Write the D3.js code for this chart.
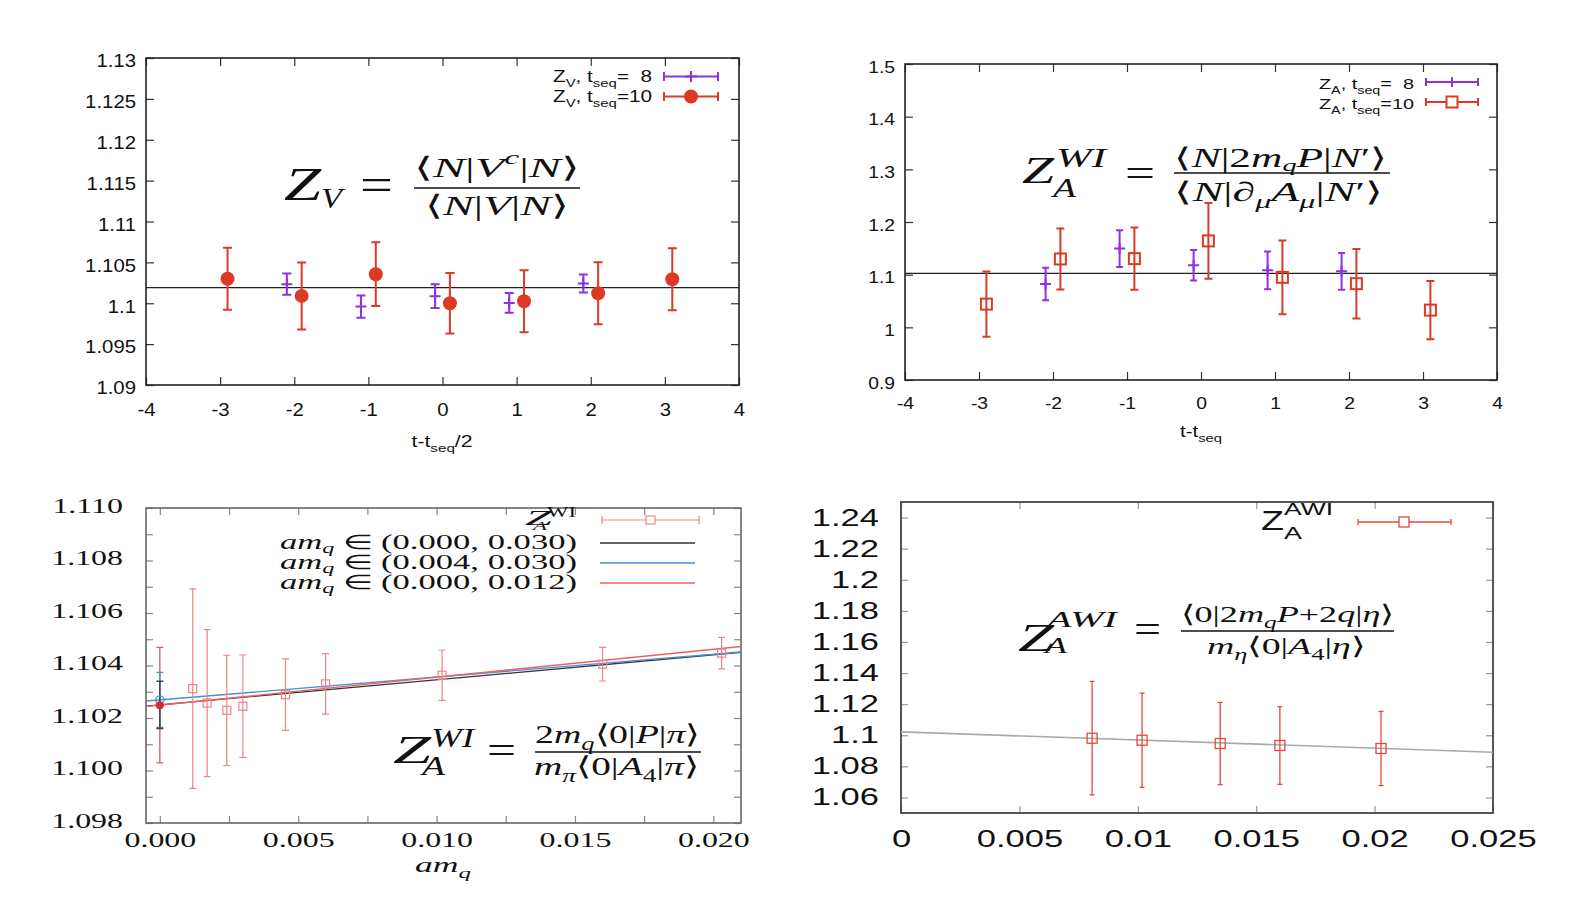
<!DOCTYPE html>
<html>
<head>
<meta charset="utf-8">
<script src="https://cdn.jsdelivr.net/npm/d3@7"></script>
<style>
body { margin: 0; background: #fff; }
svg { display: block; }
</style>
</head>
<body>
<svg id="chart" width="1578" height="912"></svg>
<script>
var SANS = '"Liberation Sans", Arial, sans-serif';
var SERIF = '"Liberation Serif", "Times New Roman", serif';

// ---- top left: Z_V against t - t_seq/2
var zvTicksX = [-4, -3, -2, -1, 0, 1, 2, 3, 4];
var zvTicksY = [1.09, 1.095, 1.1, 1.105, 1.11, 1.115, 1.12, 1.125, 1.13];
var zv8X = [-2.1, -1.1, -0.1, 0.9, 1.9];
var zv8Y = [1.10233, 1.09959, 1.10086, 1.10004, 1.10241];
var zv8Err = [0.0013, 0.00135, 0.00145, 0.0012, 0.0011];
var zv10X = [-2.9, -1.9, -0.9, 0.1, 1.1, 2.1, 3.1];
var zv10Y = [1.1030, 1.1009, 1.10355, 1.1000, 1.10024, 1.10122, 1.10294];
var zv10Err = [0.0038, 0.0041, 0.0039, 0.0037, 0.0038, 0.0038, 0.0038];
var zvFit = 1.1019;

// ---- top right: Z_A (WI) against t - t_seq
var zaTicksX = [-4, -3, -2, -1, 0, 1, 2, 3, 4];
var zaTicksY = [0.9, 1, 1.1, 1.2, 1.3, 1.4, 1.5];
var za8X = [-2.1, -1.1, -0.1, 0.9, 1.9];
var za8Y = [1.0822, 1.1495, 1.1178, 1.1082, 1.1063];
var za8Err = [0.031, 0.035, 0.029, 0.036, 0.035];
var za10X = [-2.9, -1.9, -0.9, 0.1, 1.1, 2.1, 3.1];
var za10Y = [1.0441, 1.1298, 1.1305, 1.1641, 1.0949, 1.0829, 1.0327];
var za10Err = [0.062, 0.058, 0.059, 0.072, 0.070, 0.066, 0.0555];
var zaFit = 1.1025;

// ---- bottom left: Z_A^WI against am_q
var wiTicksX = [0, 0.0025, 0.005, 0.0075, 0.01, 0.0125, 0.015, 0.0175, 0.02];
var wiTicksY = [1.098, 1.099, 1.1, 1.101, 1.102, 1.103, 1.104, 1.105, 1.106, 1.107, 1.108, 1.109, 1.11];
var wiX = [0.00119, 0.00171, 0.00242, 0.0030, 0.00454, 0.00599, 0.0102, 0.0160, 0.0203];
var wiY = [1.10312, 1.10257, 1.10229, 1.10245, 1.10289, 1.10330, 1.10363, 1.10405, 1.10447];
var wiErr = [0.0038, 0.0028, 0.0021, 0.00195, 0.00136, 0.00115, 0.00096, 0.00064, 0.0006];
var fitRanges = ["(0.000, 0.030)", "(0.004, 0.030)", "(0.000, 0.012)"];
var fitIntercept = [1.10250, 1.10269, 1.10249];
var fitSlope = [0.0955, 0.087, 0.1065];
var fitErr = [0.0009, 0.00105, 0.0022];
var fitColors = ["#333333", "#4a90d9", "#ee6060"];

// ---- bottom right: Z_A^AWI against am_q
var awiTicksX = [0, 0.005, 0.01, 0.015, 0.02, 0.025];
var awiTicksY = [1.06, 1.08, 1.1, 1.12, 1.14, 1.16, 1.18, 1.2, 1.22, 1.24];
var awiX = [0.00807, 0.01018, 0.01348, 0.0160, 0.02027];
var awiY = [1.0981, 1.0968, 1.0947, 1.0934, 1.0915];
var awiErr = [0.0365, 0.0303, 0.0265, 0.025, 0.0239];
var awiFitIntercept = 1.1022;
var awiFitSlope = -0.524;

var PURPLE = "#9030e0", RED = "#dc3a26", PINK = "#ef8585", RED4 = "#e24a3a";

var svg = d3.select("#chart");
svg.append("rect").attr("width", 1578).attr("height", 912).attr("fill", "#fff");

function widen(sel, k) {
  sel.each(function () {
    var w = this.getComputedTextLength();
    if (w > 0) d3.select(this).attr("textLength", w * k).attr("lengthAdjust", "spacingAndGlyphs");
  });
}

// text with sub/superscripts; parts = [text, italic, shift(em), scale]
function mtext(x, y, size, parts, font, width, anchor) {
  var t = svg.append("text").attr("x", x).attr("y", y).attr("font-size", size)
    .attr("font-family", font).attr("text-anchor", anchor || "start").attr("fill", "#111")
    .style("white-space", "pre");
  var cur = 0;
  parts.forEach(function (p) {
    var off = (p[2] || 0) * size;
    t.append("tspan").attr("dy", off - cur).attr("font-size", size * (p[3] || 1))
      .attr("font-style", p[1] ? "italic" : "normal").text(p[0]);
    cur = off;
  });
  if (width) t.attr("textLength", width).attr("lengthAdjust", "spacingAndGlyphs");
  return t;
}

function axes(o) {
  var x0 = o.x.range()[0], x1 = o.x.range()[1], yb = o.y.range()[0], yt = o.y.range()[1];
  var g = svg.append("g");
  var gl = g.append("g").attr("transform", "translate(" + x0 + ",0)")
    .call(d3.axisLeft(o.y).tickValues(o.yTicks).tickFormat(o.yFmt).tickSize(-o.tick).tickPadding(o.yPad));
  g.append("g").attr("transform", "translate(" + x1 + ",0)")
    .call(d3.axisRight(o.y).tickValues(o.yTicks).tickFormat("").tickSize(-o.tick));
  var gb = g.append("g").attr("transform", "translate(0," + yb + ")")
    .call(d3.axisBottom(o.x).tickValues(o.xTicks).tickFormat(o.xFmt).tickSize(-o.tick).tickPadding(o.xPad));
  g.append("g").attr("transform", "translate(0," + yt + ")")
    .call(d3.axisTop(o.x).tickValues(o.xTicks).tickFormat("").tickSize(-o.tick));
  g.selectAll(".domain").remove();
  g.selectAll(".tick line").attr("stroke", o.tickColor).attr("stroke-width", 1.2);
  g.selectAll("text").attr("font-family", o.font).attr("fill", "#111").attr("font-size", o.size);
  gl.selectAll("text").attr("transform", "translate(0," + o.yShift + ")");
  gb.selectAll("text").attr("transform", "translate(0," + o.xShift + ")");
  widen(g.selectAll("text"), o.stretch);
  g.append("rect").attr("x", x0).attr("y", yt).attr("width", x1 - x0).attr("height", yb - yt)
    .attr("fill", "none").attr("stroke", o.frame).attr("stroke-width", o.frameW);
  return g;
}

function errBars(x, y, xs, ys, es, color, cap, sw) {
  svg.append("g").selectAll("path").data(d3.range(xs.length)).enter().append("path")
    .attr("d", function (i) {
      var px = x(xs[i]), lo = y(ys[i] - es[i]), hi = y(ys[i] + es[i]);
      return "M" + px + "," + lo + "V" + hi +
        "M" + (px - cap / 2) + "," + lo + "h" + cap +
        "M" + (px - cap / 2) + "," + hi + "h" + cap;
    })
    .attr("stroke", color).attr("stroke-width", sw).attr("fill", "none");
}

function squares(x, y, xs, ys, color, s, sw) {
  svg.append("g").selectAll("rect").data(d3.range(xs.length)).enter().append("rect")
    .attr("x", function (i) { return x(xs[i]) - s / 2; })
    .attr("y", function (i) { return y(ys[i]) - s / 2; })
    .attr("width", s).attr("height", s)
    .attr("fill", "none").attr("stroke", color).attr("stroke-width", sw);
}

function plusMarks(x, y, xs, ys, color, s, sw) {
  svg.append("g").selectAll("path").data(d3.range(xs.length)).enter().append("path")
    .attr("d", function (i) {
      var px = x(xs[i]), py = y(ys[i]);
      return "M" + (px - s / 2) + "," + py + "h" + s + "M" + px + "," + (py - s / 2) + "v" + s;
    })
    .attr("stroke", color).attr("stroke-width", sw);
}

function legendBar(x0, x1, yy, color, cap, sw) {
  svg.append("path")
    .attr("d", "M" + x0 + "," + yy + "H" + x1 + "M" + x0 + "," + (yy - cap / 2) + "v" + cap +
      "M" + x1 + "," + (yy - cap / 2) + "v" + cap)
    .attr("stroke", color).attr("stroke-width", sw).attr("fill", "none");
}

function fracBar(x0, x1, yy, sw) {
  svg.append("line").attr("x1", x0).attr("x2", x1).attr("y1", yy).attr("y2", yy)
    .attr("stroke", "#111").attr("stroke-width", sw);
}

var numFmt = function (d) { return String(+d.toFixed(3)); };

// ================= panel 1 =================
var x1 = d3.scaleLinear().domain([-4, 4]).range([146, 739]);
var y1 = d3.scaleLinear().domain([1.09, 1.13]).range([385, 58]);

axes({ x: x1, y: y1, xTicks: zvTicksX, yTicks: zvTicksY, xFmt: numFmt, yFmt: numFmt,
  tick: 8, xPad: 11, yPad: 10, yShift: 3, xShift: 7, font: SANS, size: 18, stretch: 1.13,
  tickColor: "#333", frame: "#222", frameW: 1.6 });

svg.append("line").attr("x1", x1(-4)).attr("x2", x1(4)).attr("y1", y1(zvFit)).attr("y2", y1(zvFit))
  .attr("stroke", "#222").attr("stroke-width", 1.2);

errBars(x1, y1, zv8X, zv8Y, zv8Err, PURPLE, 9, 2);
plusMarks(x1, y1, zv8X, zv8Y, PURPLE, 11, 2);
errBars(x1, y1, zv10X, zv10Y, zv10Err, RED, 9, 2);
svg.append("g").selectAll("circle").data(d3.range(zv10X.length)).enter().append("circle")
  .attr("cx", function (i) { return x1(zv10X[i]); })
  .attr("cy", function (i) { return y1(zv10Y[i]); })
  .attr("r", 7).attr("fill", RED);

// legend
mtext(652, 82, 16, [["Z"], ["V", 0, 0.3, 0.72], [", t", 0, 0], ["seq", 0, 0.3, 0.72], ["=  8", 0, 0]], SANS, 99, "end");
mtext(652, 102, 16, [["Z"], ["V", 0, 0.3, 0.72], [", t", 0, 0], ["seq", 0, 0.3, 0.72], ["=10", 0, 0]], SANS, 99, "end");
legendBar(664, 718, 76.5, PURPLE, 9, 2);
svg.append("path").attr("d", "M685,76.5h12M691,71v11").attr("stroke", PURPLE).attr("stroke-width", 2);
legendBar(664, 718, 96.5, RED, 9, 2);
svg.append("circle").attr("cx", 691).attr("cy", 96.5).attr("r", 7).attr("fill", RED);

// formula
mtext(284, 200, 46, [["Z", 1]], SERIF, 37);
mtext(321, 208, 30, [["V", 1]], SERIF, 21);
mtext(360, 200, 46, [["="]], SERIF, 33);
fracBar(414, 580, 188, 1.6);
mtext(414, 177, 28, [["⟨"], ["N", 1], ["|"], ["V", 1], ["c", 1, -0.45, 0.7], ["|"], ["N", 1], ["⟩"]], SERIF, 166);
mtext(425, 215, 28, [["⟨"], ["N", 1], ["|"], ["V", 1], ["|"], ["N", 1], ["⟩"]], SERIF, 144);

mtext(442, 447, 16, [["t-t"], ["seq", 0, 0.3, 0.72], ["/2", 0, 0]], SANS, 61, "middle");

// ================= panel 2 =================
var x2 = d3.scaleLinear().domain([-4, 4]).range([905, 1497]);
var y2 = d3.scaleLinear().domain([0.9, 1.5]).range([380, 64]);

axes({ x: x2, y: y2, xTicks: zaTicksX, yTicks: zaTicksY, xFmt: numFmt, yFmt: numFmt,
  tick: 8, xPad: 10, yPad: 10, yShift: 3, xShift: 7, font: SANS, size: 16.5, stretch: 1.17,
  tickColor: "#333", frame: "#222", frameW: 1.6 });

svg.append("line").attr("x1", x2(-4)).attr("x2", x2(4)).attr("y1", y2(zaFit)).attr("y2", y2(zaFit))
  .attr("stroke", "#222").attr("stroke-width", 1.2);

errBars(x2, y2, za8X, za8Y, za8Err, PURPLE, 7, 2);
plusMarks(x2, y2, za8X, za8Y, PURPLE, 11, 2);
errBars(x2, y2, za10X, za10Y, za10Err, RED, 8, 2);
squares(x2, y2, za10X, za10Y, RED, 11, 2);

mtext(1414, 89, 15.5, [["Z"], ["A", 0, 0.3, 0.72], [", t", 0, 0], ["seq", 0, 0.3, 0.72], ["=  8", 0, 0]], SANS, 95, "end");
mtext(1414, 109, 15.5, [["Z"], ["A", 0, 0.3, 0.72], [", t", 0, 0], ["seq", 0, 0.3, 0.72], ["=10", 0, 0]], SANS, 95, "end");
legendBar(1426, 1478, 82, PURPLE, 8, 2);
svg.append("path").attr("d", "M1447,82h10M1452,77v10").attr("stroke", PURPLE).attr("stroke-width", 2);
legendBar(1426, 1478, 102, RED, 8, 2);
svg.append("rect").attr("x", 1446.5).attr("y", 96.5).attr("width", 11).attr("height", 11)
  .attr("fill", "#fff").attr("stroke", RED).attr("stroke-width", 2);

mtext(1022, 183, 38, [["Z", 1]], SERIF, 32);
mtext(1056, 167, 27, [["WI", 1]], SERIF, 50);
mtext(1053, 197, 27, [["A", 1]], SERIF, 23);
mtext(1125, 186, 38, [["="]], SERIF, 30);
fracBar(1174, 1390, 173, 1.6);
mtext(1174, 167, 27, [["⟨"], ["N", 1], ["|2"], ["m", 1], ["q", 1, 0.16, 0.65], ["P", 1], ["|"], ["N", 1], ["′"], ["⟩"]], SERIF, 214);
mtext(1174, 201, 27, [["⟨"], ["N", 1], ["|∂"], ["μ", 1, 0.25, 0.7], ["A", 1], ["μ", 1, 0.25, 0.7], ["|"], ["N", 1], ["′"], ["⟩"]], SERIF, 210);

mtext(1201, 437, 16, [["t-t"], ["seq", 0, 0.3, 0.72]], SANS, 42, "middle");

// ================= panel 3 =================
var x3 = d3.scaleLinear().domain([-0.0005, 0.021]).range([146, 741]);
var y3 = d3.scaleLinear().domain([1.098, 1.110]).range([823, 508]);

axes({ x: x3, y: y3, xTicks: wiTicksX, yTicks: wiTicksY,
  xFmt: function (d) { return Math.round(d * 10000) % 50 === 0 ? d.toFixed(3) : ""; },
  yFmt: function (d) { return Math.round(d * 1000) % 2 === 0 ? d.toFixed(3) : ""; },
  tick: 7, xPad: 12, yPad: 23, yShift: -3, xShift: -4, font: SERIF, size: 22, stretch: 1.45,
  tickColor: "#888", frame: "#666", frameW: 1.6 });

fitIntercept.forEach(function (b, k) {
  var d0 = x3.domain()[0], d1 = x3.domain()[1];
  svg.append("line").attr("x1", x3(d0)).attr("x2", x3(d1))
    .attr("y1", y3(b + fitSlope[k] * d0)).attr("y2", y3(b + fitSlope[k] * d1))
    .attr("stroke", fitColors[k]).attr("stroke-width", 1.4);
});

errBars(x3, y3, wiX, wiY, wiErr, PINK, 7, 1.2);
squares(x3, y3, wiX, wiY, PINK, 8, 1.2);

// extrapolated values at am_q = 0
errBars(x3, y3, [0], [fitIntercept[2]], [fitErr[2]], "#e06060", 7, 1.4);
errBars(x3, y3, [0], [fitIntercept[1]], [fitErr[1]], "#4a90d9", 7, 1.4);
errBars(x3, y3, [0], [fitIntercept[0]], [fitErr[0]], "#444", 7, 1.4);
svg.append("circle").attr("cx", x3(0)).attr("cy", y3(fitIntercept[1])).attr("r", 4)
  .attr("fill", "none").attr("stroke", "#4a90d9").attr("stroke-width", 1.4);
svg.append("circle").attr("cx", x3(0)).attr("cy", y3(fitIntercept[2])).attr("r", 4).attr("fill", "#c8302a");

// legend
mtext(525, 525, 21, [["Z", 1]], SERIF, 27);
mtext(547, 517, 14, [["WI"]], SERIF, 29);
mtext(533, 530, 12, [["A", 1]], SERIF, 14);
legendBar(602, 699, 520, PINK, 8, 1.2);
svg.append("rect").attr("x", 646).attr("y", 516).attr("width", 9).attr("height", 8)
  .attr("fill", "#fff").attr("stroke", PINK).attr("stroke-width", 1.2);
fitRanges.forEach(function (r, k) {
  var yy = 543 + k * 20;
  mtext(577, yy + 6, 20, [["am", 1], ["q", 1, 0.2, 0.7], [" ∈ " + r, 0, 0]], SERIF, 297, "end");
  svg.append("line").attr("x1", 600).attr("x2", 695).attr("y1", yy).attr("y2", yy)
    .attr("stroke", fitColors[k]).attr("stroke-width", 1.4);
});

mtext(393, 763, 40, [["Z", 1]], SERIF, 38);
mtext(431, 747, 27, [["WI", 1]], SERIF, 43);
mtext(422, 775, 27, [["A", 1]], SERIF, 23);
mtext(487, 764, 40, [["="]], SERIF, 29);
fracBar(535, 701, 752, 1.6);
mtext(535, 743, 26, [["2"], ["m", 1], ["q", 1, 0.25, 0.7], ["⟨0|"], ["P", 1], ["|"], ["π", 1], ["⟩"]], SERIF, 165);
mtext(534, 775, 26, [["m", 1], ["π", 1, 0.25, 0.7], ["⟨0|"], ["A", 1], ["4", 0, 0.25, 0.7], ["|"], ["π", 1], ["⟩"]], SERIF, 165);

mtext(443, 872, 22, [["am", 1], ["q", 1, 0.25, 0.7]], SERIF, 56, "middle");

// ================= panel 4 =================
var x4 = d3.scaleLinear().domain([0, 0.025]).range([901, 1493]);
var y4 = d3.scaleLinear().domain([1.05, 1.25]).range([813, 502]);

axes({ x: x4, y: y4, xTicks: awiTicksX, yTicks: awiTicksY, xFmt: numFmt, yFmt: numFmt,
  tick: 7, xPad: 21, yPad: 22, yShift: 0, xShift: -4, font: SANS, size: 23.5, stretch: 1.47,
  tickColor: "#999", frame: "#444", frameW: 1.8 });

svg.append("line").attr("x1", x4(0)).attr("x2", x4(0.025))
  .attr("y1", y4(awiFitIntercept)).attr("y2", y4(awiFitIntercept + awiFitSlope * 0.025))
  .attr("stroke", "#aaa").attr("stroke-width", 1.6);

errBars(x4, y4, awiX, awiY, awiErr, RED4, 5, 1.3);
squares(x4, y4, awiX, awiY, RED4, 10, 1.3);

mtext(1261, 530, 27, [["Z"]], SANS, 23);
mtext(1284, 515, 17, [["AWI"]], SANS, 49);
mtext(1284, 539, 17, [["A"]], SANS, 18);
legendBar(1358, 1451, 522, RED4, 6, 1.3);
svg.append("rect").attr("x", 1399).attr("y", 517).attr("width", 10).attr("height", 10)
  .attr("fill", "#fff").attr("stroke", RED4).attr("stroke-width", 1.3);

mtext(1018, 651, 40, [["Z", 1]], SERIF, 36);
mtext(1047, 627, 24, [["AWI", 1]], SERIF, 70);
mtext(1045, 653, 24, [["A", 1]], SERIF, 22);
mtext(1134, 643, 40, [["="]], SERIF, 27);
fracBar(1181, 1394, 631, 1.6);
mtext(1181, 622, 24, [["⟨0|2"], ["m", 1], ["q", 1, 0.25, 0.7], ["P", 1], ["+2"], ["q", 1], ["|"], ["η", 1], ["⟩"]], SERIF, 213);
mtext(1207, 654, 24, [["m", 1], ["η", 1, 0.25, 0.7], ["⟨0|"], ["A", 1], ["4", 0, 0.25, 0.7], ["|"], ["η", 1], ["⟩"]], SERIF, 158);
</script>
</body>
</html>
